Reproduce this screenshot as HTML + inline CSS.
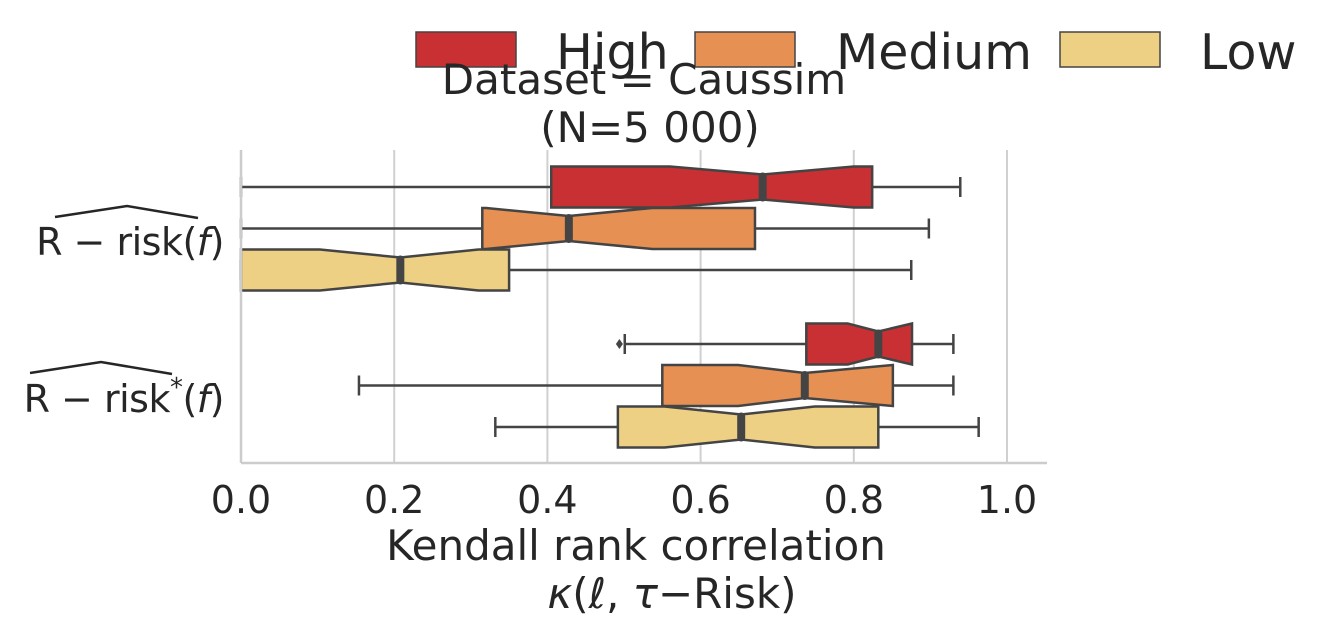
<!DOCTYPE html>
<html><head><meta charset="utf-8"><style>
body{margin:0;background:#fff;}
svg{display:block;font-family:"DejaVu Sans","Liberation Sans",sans-serif;fill:#262626;}
</style></head><body>
<svg id="chart" width="1328" height="626" viewBox="0 0 1328 626">
<g id="grid"></g>
<g id="boxes"></g>
<g id="axes"></g>
<g>
 <rect x="416" y="32" width="100" height="35" fill="#c93033" stroke="#444" stroke-width="1.5"/>
 <text x="556" y="69" font-size="49">High</text>
 <rect x="695" y="32" width="100" height="35" fill="#e69153" stroke="#444" stroke-width="1.5"/>
 <text x="836" y="69" font-size="49">Medium</text>
 <rect x="1060" y="32" width="100" height="35" fill="#eed085" stroke="#444" stroke-width="1.5"/>
 <text x="1200" y="69" font-size="49">Low</text>
</g>
<text x="644" y="94" font-size="42" text-anchor="middle">Dataset = Caussim</text>
<text x="650" y="142" font-size="42" text-anchor="middle">(N=5 000)</text>
<text x="636" y="560" font-size="42" text-anchor="middle">Kendall rank correlation</text>
<text x="672" y="608" font-size="42" text-anchor="middle"><tspan font-style="italic">κ</tspan>(<tspan font-style="italic">ℓ</tspan>, <tspan font-style="italic">τ</tspan>−Risk)</text>
<g>
 <path d="M55 217 L127 206 L198 218" fill="none" stroke="#262626" stroke-width="2.5"/>
 <text x="224" y="255" font-size="38" text-anchor="end" letter-spacing="-0.5">R − risk(<tspan font-style="italic">f</tspan>)</text>
</g>
<g>
 <path d="M30 373 L101 362 L172 374" fill="none" stroke="#262626" stroke-width="2.5"/>
 <text x="224" y="412" font-size="38" text-anchor="end" letter-spacing="-0.5">R − risk<tspan font-size="26" dy="-16">*</tspan><tspan dy="16">(</tspan><tspan font-style="italic">f</tspan>)</text>
</g>
</svg>
<script>
const ticks=[0,0.2,0.4,0.6,0.8,1.0];
const tickLabels=["0.0","0.2","0.4","0.6","0.8","1.0"];
const groups=["R-risk","R-risk*"];
const levels=["High","Medium","Low"];
const colors=["#c93033","#e69153","#eed085"];
const q1=[[0.405,0.315,-0.05],[0.738,0.55,0.492]];
const med=[[0.681,0.428,0.208],[0.832,0.736,0.653]];
const q3=[[0.824,0.671,0.35],[0.876,0.851,0.832]];
const notchLo=[[0.56,0.32,0.103],[0.792,0.649,0.553]];
const notchHi=[[0.80,0.537,0.31],[0.876,0.851,0.749]];
const whLo=[[0,0,0],[0.501,0.154,0.332]];
const whHi=[[0.939,0.898,0.875],[0.93,0.93,0.963]];
const outliers=[[[],[],[]],[[0.494],[],[]]];
const NS="http://www.w3.org/2000/svg";
const X0=241,XS=766,XMIN=0;
const x=v=>X0+(Math.max(v,XMIN))*XS;
const y=(g,l)=>187+g*157+l*41.5;
const H=41,INS=8;
function mk(tag,attrs,parent){const e=document.createElementNS(NS,tag);for(const k in attrs)e.setAttribute(k,attrs[k]);parent.appendChild(e);return e;}
const grid=document.getElementById('grid'),boxes=document.getElementById('boxes'),axes=document.getElementById('axes');
ticks.forEach((t,i)=>{
 const gl=mk('line',{x1:x(t),x2:x(t),y1:150,y2:463,stroke:'#d0d0d0','stroke-width':2},grid);
 
 
 const tl=mk('text',{x:x(t),y:513,'font-size':38,'text-anchor':'middle'},axes);
 tl.textContent=tickLabels[i];
 
 
});
const ax=mk('line',{x1:241,x2:1047,y1:463,y2:463,stroke:'#ccc','stroke-width':2.5},axes);


const ay=mk('line',{x1:241,x2:241,y1:150,y2:463,stroke:'#ccc','stroke-width':2.5},axes);


groups.forEach((g,gi)=>levels.forEach((l,li)=>{
 const cy=y(gi,li),t=cy-H/2,b=cy+H/2;
 const grp=mk('g',{},boxes);
 
 
 const s={stroke:'#444','stroke-width':2.5};
 mk('line',Object.assign({x1:x(whLo[gi][li]),x2:x(q1[gi][li]),y1:cy,y2:cy},s),grp);
 mk('line',Object.assign({x1:x(q3[gi][li]),x2:x(whHi[gi][li]),y1:cy,y2:cy},s),grp);
 mk('line',Object.assign({x1:x(whLo[gi][li]),x2:x(whLo[gi][li]),y1:cy-10,y2:cy+10},s),grp);
 mk('line',Object.assign({x1:x(whHi[gi][li]),x2:x(whHi[gi][li]),y1:cy-10,y2:cy+10},s),grp);
 const a=x(q1[gi][li]),nl=x(notchLo[gi][li]),m=x(med[gi][li]),nh=x(notchHi[gi][li]),c=x(q3[gi][li]);
 const pts=[[a,t],[nl,t],[m,t+INS],[nh,t],[c,t],[c,b],[nh,b],[m,b-INS],[nl,b],[a,b]];
 mk('polygon',Object.assign({points:pts.map(p=>p.join(',')).join(' '),fill:colors[li],'stroke-linejoin':'miter'},s),grp);
 mk('line',{x1:m,x2:m,y1:t+INS+2,y2:b-INS-2,stroke:'#444','stroke-width':8,'stroke-linecap':'round'},grp);
 outliers[gi][li].forEach(o=>{
  const d=mk('path',{d:`M${x(o)} ${cy-5} L${x(o)+3.5} ${cy} L${x(o)} ${cy+5} L${x(o)-3.5} ${cy}Z`,fill:'#444'},grp);
  
  
 });
}));
</script>
</body></html>
